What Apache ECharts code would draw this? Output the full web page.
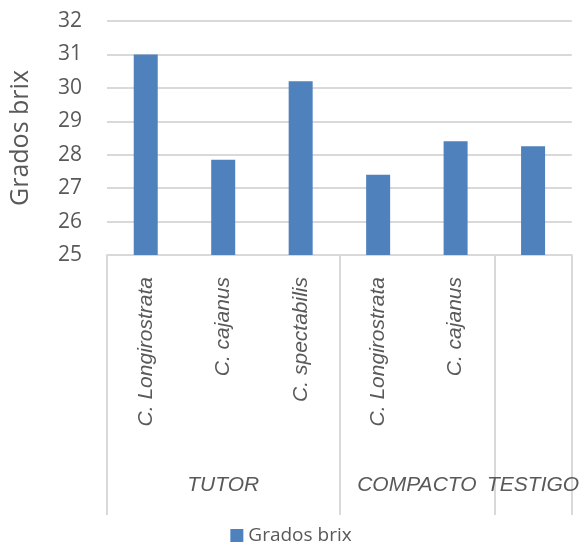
<!DOCTYPE html>
<html><head><meta charset="utf-8">
<script src="https://cdn.jsdelivr.net/npm/echarts@6/dist/echarts.min.js"></script>
<style>html,body{margin:0;padding:0;background:#fff}#c{width:582px;height:557px}</style>
</head><body><div id="c"></div>
<script>
const categories = ['C. Longirostrata', 'C. cajanus', 'C. spectabilis', 'C. Longirostrata', 'C. cajanus', ''];
const values = [31.0, 27.85, 30.2, 27.4, 28.4, 28.25];
const groups = ['TUTOR', 'COMPACTO', 'TESTIGO'];
const groupSpans = [3, 2, 1];
const seriesName = 'Grados brix';
const yMin = 25, yMax = 32, yStep = 1;

// group boundaries and centres (in category units)
const boundaries = [];
const centres = {};
let acc = 0;
groups.forEach((g, i) => {
  boundaries.push(acc);
  centres[(acc + groupSpans[i] / 2).toFixed(1)] = g;
  acc += groupSpans[i];
});

const txt = '#595959';
const grid = '#d9d9d9';
const font = "'Liberation Sans Narrow','Arial Narrow','Liberation Sans',Arial,sans-serif";
const sans = "'Open Sans','Liberation Sans',sans-serif";

const chart = echarts.init(document.getElementById('c'), null, {renderer: 'canvas'});
chart.setOption({
  animation: false,
  grid: {left: 105, right: 9, top: 21, bottom: 302, containLabel: false},
  legend: {
    data: [seriesName], bottom: 7, left: 'center', icon: 'rect',
    itemWidth: 13, itemHeight: 13, itemGap: 10,
    textStyle: {color: txt, fontSize: 19, fontFamily: sans}
  },
  xAxis: [{
    type: 'category', data: categories, position: 'bottom',
    axisLine: {show: true, lineStyle: {color: grid, width: 2}},
    axisTick: {show: true, length: 260, lineStyle: {color: grid, width: 2},
      interval: (i) => boundaries.includes(i)},
    axisLabel: {interval: 0, rotate: 90, margin: 22, color: txt, fontSize: 21,
      fontStyle: 'italic', fontFamily: font}
  }, {
    type: 'value', min: 0, max: acc, interval: 0.5, position: 'bottom',
    axisLine: {show: false}, axisTick: {show: false}, splitLine: {show: false},
    axisLabel: {margin: 220, color: txt, fontSize: 21, fontStyle: 'italic', fontFamily: font,
      showMinLabel: true, showMaxLabel: true,
      formatter: (v) => centres[Number(v).toFixed(1)] || ''}
  }],
  yAxis: {
    type: 'value', min: yMin, max: yMax, interval: yStep,
    name: seriesName, nameLocation: 'middle', nameGap: 74, nameRotate: 90,
    nameTextStyle: {color: txt, fontSize: 25, fontFamily: sans},
    axisLine: {show: false}, axisTick: {show: false},
    axisLabel: {color: txt, fontSize: 21, margin: 25, fontFamily: sans},
    splitLine: {lineStyle: {color: grid, width: 2}}
  },
  series: [{
    name: seriesName, type: 'bar', data: values, barWidth: 24,
    itemStyle: {color: '#4f81bd'}
  }]
});
</script>
</body></html>
